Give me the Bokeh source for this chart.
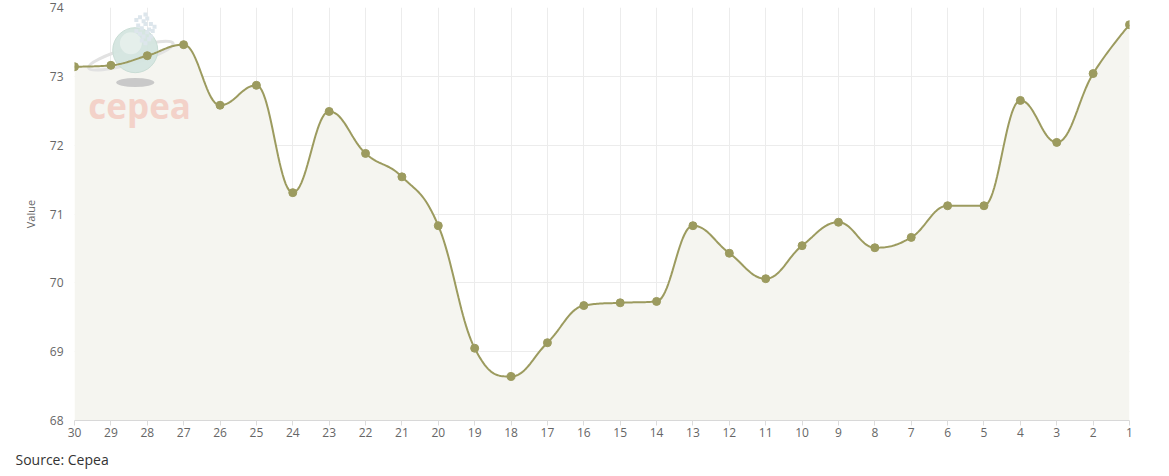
import numpy as np
from bokeh.plotting import figure
from bokeh.models import Range1d, FixedTicker, Title
from bokeh.core.properties import value
from bokeh.embed import file_html
from bokeh.resources import INLINE

# ---- data ----
categories = ["30", "29", "28", "27", "26", "25", "24", "23", "22", "21",
              "20", "19", "18", "17", "16", "15", "14", "13", "12", "11",
              "10", "9", "8", "7", "6", "5", "4", "3", "2", "1"]
values = [73.14, 73.16, 73.30, 73.46, 72.58, 72.87, 71.31, 72.49, 71.88, 71.54,
          70.83, 69.05, 68.64, 69.13, 69.67, 69.71, 69.73, 70.83, 70.43, 70.06,
          70.54, 70.88, 70.51, 70.66, 71.12, 71.12, 72.65, 72.04, 73.04, 73.75]
y_ticks = [68, 69, 70, 71, 72, 73, 74]
source_text = "Source: Cepea"
logo_text = "cepea"

LINE = "#9c9b5f"
FONT = "Open Sans"

xs = list(range(len(categories)))


def spline_path(px, py, smoothing=1.5, steps=24):
    """Highcharts-style spline through the points."""
    n = len(px)
    denom = smoothing + 1
    lc = [(px[i], py[i]) for i in range(n)]
    rc = [(px[i], py[i]) for i in range(n)]
    for i in range(1, n - 1):
        lx, ly = px[i - 1], py[i - 1]
        nx, ny = px[i + 1], py[i + 1]
        x, y = px[i], py[i]
        lcx = (smoothing * x + lx) / denom
        lcy = (smoothing * y + ly) / denom
        rcx = (smoothing * x + nx) / denom
        rcy = (smoothing * y + ny) / denom
        corr = ((rcy - lcy) * (rcx - x)) / (rcx - lcx) + y - rcy
        lcy += corr
        rcy += corr
        if lcy > ly and lcy > y:
            lcy = max(ly, y); rcy = 2 * y - lcy
        elif lcy < ly and lcy < y:
            lcy = min(ly, y); rcy = 2 * y - lcy
        if rcy > ny and rcy > y:
            rcy = max(ny, y); lcy = 2 * y - rcy
        elif rcy < ny and rcy < y:
            rcy = min(ny, y); lcy = 2 * y - rcy
        lc[i] = (lcx, lcy)
        rc[i] = (rcx, rcy)
    out_x, out_y = [px[0]], [py[0]]
    t = np.linspace(0, 1, steps)[1:]
    for i in range(1, n):
        p0 = np.array([px[i - 1], py[i - 1]])
        p1 = np.array(rc[i - 1])
        p2 = np.array(lc[i])
        p3 = np.array([px[i], py[i]])
        pts = ((1 - t) ** 3)[:, None] * p0 + (3 * (1 - t) ** 2 * t)[:, None] * p1 \
            + (3 * (1 - t) * t ** 2)[:, None] * p2 + (t ** 3)[:, None] * p3
        out_x.extend(pts[:, 0]); out_y.extend(pts[:, 1])
    return np.array(out_x), np.array(out_y)


cx, cy = spline_path(xs, values)

p = figure(width=1169, height=476, output_backend="svg", toolbar_location=None,
           x_range=Range1d(0, len(categories) - 1), y_range=Range1d(68, 74),
           min_border_left=74, min_border_right=40, min_border_top=7,
           min_border_bottom=56)
p.outline_line_color = None
p.background_fill_color = "white"

# ---- area under the series ----
p.varea(x=cx, y1=68, y2=cy, fill_color="#f5f5f0", fill_alpha=1)

# ---- watermark logo (decoration, drawn over the area, under the line) ----
p.ellipse(x=[1.55], y=[73.30], width=88, height=16, angle=0.28,
          width_units="screen", height_units="screen",
          fill_color=None, line_color="#e2e2e2", line_width=3)
p.scatter(x=[1.67], y=[73.38], size=45, fill_color="#d4e5df", line_color="#c9ddd5",
          fill_alpha=0.95)
p.scatter(x=[1.55], y=[73.48], size=22, fill_color="#e8f1ed", line_color=None,
          fill_alpha=0.8)
p.ellipse(x=[1.67], y=[72.91], width=38, height=9,
          width_units="screen", height_units="screen",
          fill_color="#c4c4c4", line_color=None, fill_alpha=0.9)
dots_x = [1.70, 1.80, 1.90, 2.00, 2.10, 1.75, 1.85, 1.95, 2.05, 2.15,
          1.80, 1.90, 2.00, 2.10, 1.85, 1.95, 2.05, 1.95, 2.20, 1.70]
dots_y = [73.82, 73.86, 73.80, 73.84, 73.76, 73.74, 73.70, 73.76, 73.68, 73.66,
          73.62, 73.58, 73.64, 73.58, 73.52, 73.48, 73.54, 73.90, 73.72, 73.66]
p.scatter(x=dots_x, y=dots_y, marker="square", size=4, fill_color="#dde6ec",
          line_color=None)
p.text(x=[0.38], y=[72.58], text=[logo_text], text_font=value(FONT),
       text_font_size="35px", text_font_style="bold", text_color="#f3d2c9",
       text_baseline="alphabetic", text_align="left")

# ---- series ----
p.line(cx, cy, line_color=LINE, line_width=2)
p.scatter(xs, values, size=8, fill_color=LINE, line_color=LINE)

# ---- axes ----
p.xaxis.ticker = FixedTicker(ticks=xs)
p.xaxis.major_label_overrides = {i: c for i, c in enumerate(categories)}
p.yaxis.ticker = FixedTicker(ticks=y_ticks)
for ax in (p.xaxis[0], p.yaxis[0]):
    ax.major_label_text_font = FONT
    ax.major_label_text_font_size = "12px"
    ax.major_label_text_color = "#666666"
    ax.major_tick_in = 0
    ax.minor_tick_out = 0
    ax.minor_tick_in = 0
p.xaxis.major_tick_out = 5
p.xaxis.major_tick_line_color = "#dcdcdc"
p.yaxis.major_tick_out = 0
p.xaxis.axis_line_color = "#d8d8d8"
p.yaxis.axis_line_color = None
p.xaxis.major_label_standoff = 2
p.yaxis.major_label_standoff = 11
p.yaxis.axis_label = "Value"
p.yaxis.axis_label_text_font = FONT
p.yaxis.axis_label_text_font_size = "11px"
p.yaxis.axis_label_text_font_style = "normal"
p.yaxis.axis_label_text_color = "#666666"
p.yaxis.axis_label_standoff = 9

p.xgrid.grid_line_color = "#ececec"
p.ygrid.grid_line_color = "#ececec"

p.add_layout(Title(text=source_text, align="left", text_font=FONT,
                   text_font_size="14px", text_font_style="normal",
                   text_color="#333333", offset=-59, standoff=16), "below")

open("out.html", "w").write(file_html(p, INLINE))
